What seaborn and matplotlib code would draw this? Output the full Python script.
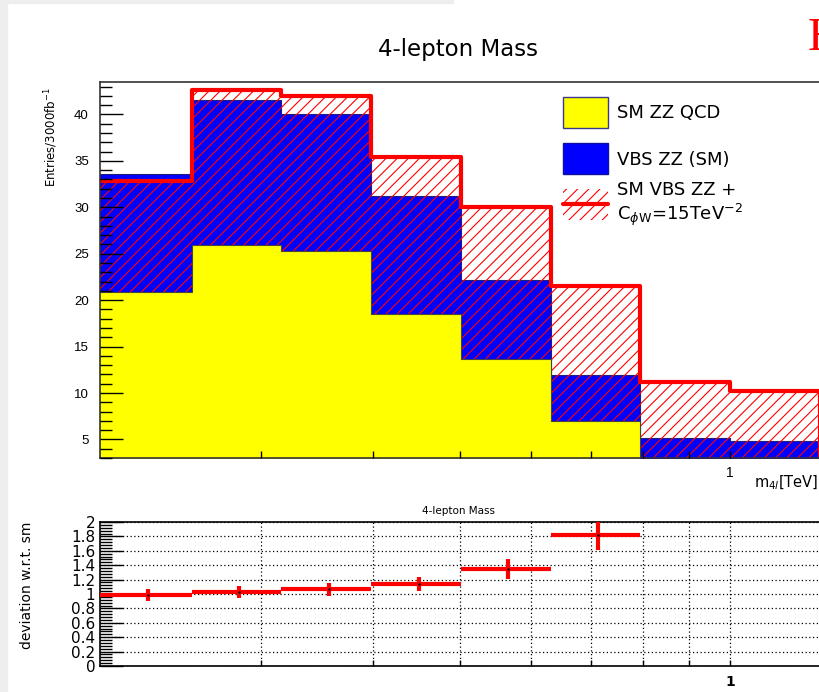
import numpy as np
import pandas as pd
import matplotlib
matplotlib.use('Agg')
import matplotlib.pyplot as plt
import seaborn as sns
from matplotlib.patches import Rectangle
from matplotlib.lines import Line2D
from matplotlib.ticker import FixedLocator, FixedFormatter, MultipleLocator, NullFormatter

# m4l bin edges [TeV]
bin_edges = [0.1975, 0.2512, 0.3162, 0.3981, 0.5012, 0.6310, 0.7943, 1.0, 1.2589]
# entries / 3000 fb^-1
sm_zz_qcd = [20.9, 25.9, 25.25, 18.5, 13.65, 6.95, 1.2, 0.9]
vbs_zz_sm = [12.7, 15.7, 14.85, 12.7, 8.5, 4.95, 3.95, 3.9]
vbs_zz_cphiw = [32.85, 42.6, 42.0, 35.4, 30.0, 21.5, 11.2, 10.2]
# lower pad: deviation w.r.t. SM (first six bins)
ratio_vals = [0.985, 1.03, 1.063, 1.138, 1.35, 1.815]
ratio_errs = [0.088, 0.079, 0.084, 0.093, 0.135, 0.20]
ytick_labels = ['0', '0.2', '0.4', '0.6', '0.8', '1', '1.2', '1.4', '1.6', '1.8', '2']

W, H = 819, 692
sns.set_style('ticks')
plt.rcParams['font.family'] = ['DejaVu Sans']
plt.rcParams['hatch.color'] = 'red'
plt.rcParams['hatch.linewidth'] = 0.8
plt.rcParams['text.color'] = 'black'
plt.rcParams['xtick.color'] = 'black'
plt.rcParams['ytick.color'] = 'black'


def fx(px):
    return px / W


def fy(py):
    return 1 - py / H


edges = np.array(bin_edges)
centers = (edges[:-1] + edges[1:]) / 2
df = pd.DataFrame({
    'm4l': centers,
    'qcd': sm_zz_qcd,
    'stack': np.array(sm_zz_qcd) + np.array(vbs_zz_sm),
    'bsm': vbs_zz_cphiw,
})

fig = plt.figure(figsize=(W / 100, H / 100), dpi=100)
fig.patch.set_facecolor('white')
fig.add_artist(Rectangle((0, 0), fx(7), 1, transform=fig.transFigure, color='#eeeeee', zorder=0))
fig.add_artist(Rectangle((0, fy(3)), fx(453), 3 / H, transform=fig.transFigure, color='#eeeeee', zorder=0))

# x range from pixel layout: 1 TeV at px 730, 897 px per decade
ax_left, ax_right = 100, 850
xmin = 10 ** (-(730 - ax_left) / 897)
xmax = 10 ** ((ax_right - 730) / 897)

# ---------------- main pad ----------------
ax = fig.add_axes([fx(ax_left), fy(458), (ax_right - ax_left) / W, (458 - 82) / H])
common = dict(data=df, x='m4l', bins=list(bin_edges), element='step', fill=True, ax=ax)
sns.histplot(weights='stack', color='blue', alpha=1, edgecolor='#20207a', linewidth=0.8, **common)
sns.histplot(weights='bsm', color='red', facecolor='none', edgecolor='red', linewidth=0, hatch='///', **common)
sns.histplot(weights='qcd', color='yellow', alpha=1, edgecolor='#444444', linewidth=0.8, **common)
sns.histplot(weights='bsm', color='red', facecolor='none', edgecolor='red', linewidth=3, **common)

ax.set_xscale('log')
ax.set_xlim(xmin, xmax)
ax.set_ylim(3, 43.5)
ax.set_xlabel('')
ax.set_ylabel('')
ax.set_axisbelow(False)
ax.xaxis.set_major_locator(FixedLocator([1.0]))
ax.xaxis.set_major_formatter(FixedFormatter(['1']))
ax.xaxis.set_minor_locator(FixedLocator([0.3, 0.4, 0.5, 0.6, 0.7, 0.8, 0.9]))
ax.xaxis.set_minor_formatter(NullFormatter())
ax.yaxis.set_major_locator(FixedLocator([5, 10, 15, 20, 25, 30, 35, 40]))
ax.yaxis.set_minor_locator(MultipleLocator(1))
ax.tick_params(axis='x', which='both', direction='in', length=5, width=1, labelsize=10, pad=6)
ax.tick_params(axis='y', which='major', direction='in', length=16.5, width=1, labelsize=9.5, pad=8)
ax.tick_params(axis='y', which='minor', direction='in', length=8.6, width=1)
for lab in ax.get_xticklabels() + ax.get_yticklabels():
    lab.set_family('Liberation Sans')
for side in ['left', 'bottom', 'top', 'right']:
    ax.spines[side].set_visible(True)
    ax.spines[side].set_color('#333333')
    ax.spines[side].set_linewidth(1.2)

# ---------------- ratio pad ----------------
rax = fig.add_axes([fx(ax_left), fy(666), (ax_right - ax_left) / W, (666 - 522) / H])
nr = len(ratio_vals)
lo = centers[:nr] - edges[:nr]
hi = edges[1:nr + 1] - centers[:nr]
rax.errorbar(centers[:nr], ratio_vals, xerr=[lo, hi], yerr=ratio_errs,
             fmt='none', ecolor='red', elinewidth=3, capsize=0, zorder=3)
sns.scatterplot(x=centers[:nr], y=ratio_vals, color='black', s=3, linewidth=0, ax=rax, zorder=4)
rax.set_xscale('log')
rax.set_xlim(xmin, xmax)
rax.set_ylim(0, 2)
rax.xaxis.set_major_locator(FixedLocator([1.0]))
rax.xaxis.set_major_formatter(FixedFormatter(['1']))
rax.xaxis.set_minor_locator(FixedLocator([0.3, 0.4, 0.5, 0.6, 0.7, 0.8, 0.9]))
rax.xaxis.set_minor_formatter(NullFormatter())
rax.yaxis.set_major_locator(FixedLocator(np.arange(0, 2.01, 0.2)))
rax.yaxis.set_major_formatter(FixedFormatter(ytick_labels))
rax.yaxis.set_minor_locator(MultipleLocator(0.04))
rax.grid(axis='x', which='both', color='black', linestyle=(0, (1, 2)), linewidth=0.9)
rax.grid(axis='y', which='major', color='black', linestyle=(0, (1, 2)), linewidth=0.9)
rax.set_axisbelow(False)
rax.tick_params(axis='x', which='both', direction='in', length=4.3, width=1, labelsize=10, pad=6.5)
rax.tick_params(axis='y', which='major', direction='in', length=16.5, width=1, labelsize=11, pad=3.5)
rax.tick_params(axis='y', which='minor', direction='in', length=8.6, width=1)
for lab in rax.get_xticklabels():
    lab.set_fontweight('bold')
for side in ['left', 'bottom', 'top', 'right']:
    rax.spines[side].set_visible(True)
    rax.spines[side].set_color('black')
    rax.spines[side].set_linewidth(1.2)

# ---------------- texts ----------------
fig.text(fx(458), fy(56), '4-lepton Mass', ha='center', va='baseline', fontsize=16.5)
fig.text(fx(51), fy(137), r'Entries/3000fb$^{-1}$', rotation=90, ha='center', va='center', fontsize=8.5)
fig.text(fx(754), fy(487), r'm$_{4l}$[TeV]', ha='left', va='baseline', fontsize=10.5)
fig.text(fx(459), fy(514), '4-lepton Mass', ha='center', va='baseline', fontsize=7.5)
fig.text(fx(27), fy(585), 'deviation w.r.t. sm', rotation=90, ha='center', va='center', fontsize=10)
fig.text(fx(808), fy(50), 'H', ha='left', va='baseline', color='red',
         fontsize=34, family='Liberation Serif')

# ---------------- legend ----------------
fig.add_artist(Rectangle((fx(563), fy(128)), 45 / W, 31 / H, transform=fig.transFigure,
                         facecolor='yellow', edgecolor='#3a3a8a', linewidth=1))
fig.add_artist(Rectangle((fx(563), fy(174)), 45 / W, 31 / H, transform=fig.transFigure,
                         facecolor='blue', edgecolor='#1010a0', linewidth=1))
fig.add_artist(Rectangle((fx(563), fy(220)), 45 / W, 31 / H, transform=fig.transFigure,
                         facecolor='none', edgecolor='red', linewidth=0, hatch='///'))
fig.add_artist(Line2D([fx(563), fx(608)], [fy(204), fy(204)], transform=fig.transFigure,
                      color='red', linewidth=3))
fig.text(fx(617), fy(118), 'SM ZZ QCD', ha='left', va='baseline', fontsize=13)
fig.text(fx(617), fy(165), 'VBS ZZ (SM)', ha='left', va='baseline', fontsize=13)
fig.text(fx(617), fy(195), 'SM VBS ZZ +', ha='left', va='baseline', fontsize=13)
fig.text(fx(617), fy(220), r'C$_{\phi\mathrm{W}}$=15TeV$^{-2}$', ha='left', va='baseline', fontsize=13)

fig.savefig('out.png', dpi=100)
